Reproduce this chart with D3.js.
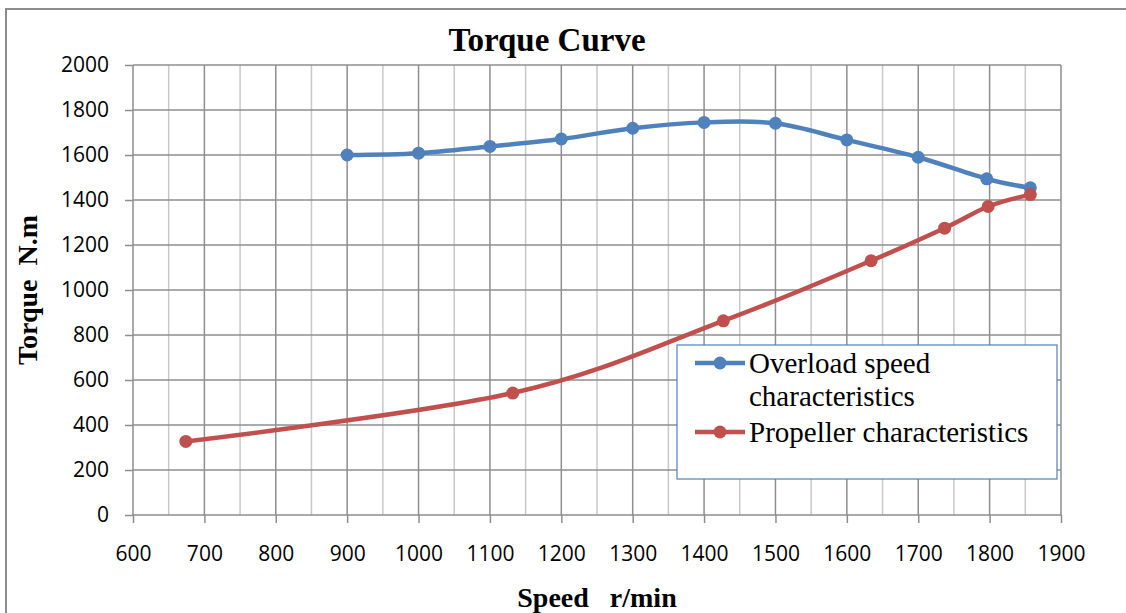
<!DOCTYPE html>
<html>
<head>
<meta charset="utf-8">
<script src="https://cdn.jsdelivr.net/npm/d3@7"></script>
<style>
  body { margin: 0; background: #fff; }
</style>
</head>
<body>
<div id="chart"></div>
<script>
// overload speed characteristics
var overloadSpeed = [900, 1000, 1100, 1200, 1300, 1400, 1500, 1600, 1700, 1796, 1857];
var overloadTorque = [1600, 1608, 1638, 1671, 1719, 1745, 1741, 1667, 1590, 1494, 1454];

// propeller characteristics
var propSpeed = [674, 1132, 1427, 1634, 1737, 1798, 1857];
var propTorque = [327, 542, 863, 1130, 1275, 1371, 1424];

var xTicks = [600, 700, 800, 900, 1000, 1100, 1200, 1300, 1400, 1500, 1600, 1700, 1800, 1900];
var yTicks = [0, 200, 400, 600, 800, 1000, 1200, 1400, 1600, 1800, 2000];
var seriesNames = ["Overload speed|characteristics", "Propeller characteristics"];
var seriesColors = ["#4F81BD", "#C0504D"];

var width = 1126;
var height = 613;

var svg = d3.select('#chart')
  .append('svg')
  .attr('width', width)
  .attr('height', height)
  .style('display', 'block');

// outer frame (only left and top are in the picture)
svg.append('rect')
  .attr('x', 6).attr('y', 9)
  .attr('width', 1140).attr('height', 640)
  .attr('fill', 'none')
  .attr('stroke', '#8c8c8c')
  .attr('stroke-width', 2);

var x = d3.scaleLinear().domain([600, 1900]).range([133, 1061]);
var y = d3.scaleLinear().domain([0, 2000]).range([515, 65]);

// minor vertical grid every 50
var minor = d3.range(650, 1900, 100);
svg.append('g').selectAll('line')
  .data(minor)
  .enter()
  .append('line')
  .attr('x1', function(d) { return x(d); })
  .attr('x2', function(d) { return x(d); })
  .attr('y1', y(0)).attr('y2', y(2000))
  .attr('stroke', '#c8c8c8')
  .attr('stroke-width', 1.5);

// major vertical grid
svg.append('g').selectAll('line')
  .data(xTicks)
  .enter()
  .append('line')
  .attr('x1', function(d) { return x(d); })
  .attr('x2', function(d) { return x(d); })
  .attr('y1', y(0)).attr('y2', y(2000))
  .attr('stroke', '#8e8e8e')
  .attr('stroke-width', 1.5);

// horizontal grid
svg.append('g').selectAll('line')
  .data(yTicks)
  .enter()
  .append('line')
  .attr('x1', x(600)).attr('x2', x(1900))
  .attr('y1', function(d) { return y(d); })
  .attr('y2', function(d) { return y(d); })
  .attr('stroke', '#8e8e8e')
  .attr('stroke-width', 1.5);

var tickFont = "'Open Sans', sans-serif";

var xAxis = svg.append('g')
  .attr('transform', 'translate(0,' + y(0) + ')')
  .call(d3.axisBottom(x).tickValues(xTicks).tickSize(8).tickPadding(23).tickFormat(d3.format('d')));
var yAxis = svg.append('g')
  .attr('transform', 'translate(' + x(600) + ',0)')
  .call(d3.axisLeft(y).tickValues(yTicks).tickSize(8).tickPadding(16).tickFormat(d3.format('d')));

[xAxis, yAxis].forEach(function(g) {
  g.select('.domain').remove();
  g.selectAll('line').attr('stroke', '#8e8e8e').attr('stroke-width', 1.5);
  g.selectAll('text')
    .attr('fill', '#000')
    .style('font-family', tickFont)
    .style('font-size', '21px');
});

// series
var line = d3.line()
  .x(function(d) { return x(d[0]); })
  .y(function(d) { return y(d[1]); })
  .curve(d3.curveCatmullRom.alpha(0));

var series = [
  d3.zip(overloadSpeed, overloadTorque),
  d3.zip(propSpeed, propTorque)
];

series.forEach(function(pts, i) {
  svg.append('path')
    .datum(pts)
    .attr('d', line)
    .attr('fill', 'none')
    .attr('stroke', seriesColors[i])
    .attr('stroke-width', 4.5)
    .attr('stroke-linejoin', 'round');

  svg.append('g').selectAll('circle')
    .data(pts)
    .enter()
    .append('circle')
    .attr('cx', function(d) { return x(d[0]); })
    .attr('cy', function(d) { return y(d[1]); })
    .attr('r', 6.5)
    .attr('fill', seriesColors[i]);
});

// titles
var serif = "'Liberation Serif', 'Times New Roman', serif";
svg.append('text')
  .attr('x', 547).attr('y', 51)
  .attr('text-anchor', 'middle')
  .attr('style', 'font-family: ' + serif + '; font-size: 33px; font-weight: bold')
  .text('Torque Curve');

svg.append('text')
  .attr('transform', 'translate(37,290) rotate(-90)')
  .attr('text-anchor', 'middle')
  .attr('style', 'font-family: ' + serif + '; font-size: 28px; font-weight: bold; white-space: pre')
  .text('Torque  N.m');

svg.append('text')
  .attr('x', 597).attr('y', 607)
  .attr('text-anchor', 'middle')
  .attr('style', 'font-family: ' + serif + '; font-size: 28px; font-weight: bold; white-space: pre')
  .text('Speed   r/min');

// legend
var legend = svg.append('g');
legend.append('rect')
  .attr('x', 677).attr('y', 345)
  .attr('width', 380).attr('height', 134)
  .attr('fill', '#fff')
  .attr('stroke', '#4F81BD')
  .attr('stroke-width', 1.2);

var legendRows = [363, 432];
seriesNames.forEach(function(name, i) {
  var ly = legendRows[i];
  legend.append('line')
    .attr('x1', 695).attr('x2', 745)
    .attr('y1', ly).attr('y2', ly)
    .attr('stroke', seriesColors[i])
    .attr('stroke-width', 4.5);
  legend.append('circle')
    .attr('cx', 720).attr('cy', ly).attr('r', 6.5)
    .attr('fill', seriesColors[i]);
  var t = legend.append('text')
    .attr('x', 749).attr('y', ly + 10)
    .attr('style', 'font-family: ' + serif + '; font-size: 29px; fill: #000');
  name.split('|').forEach(function(part, j) {
    t.append('tspan')
      .attr('x', 749)
      .attr('dy', j === 0 ? 0 : 33)
      .text(part);
  });
});
</script>
</body>
</html>
